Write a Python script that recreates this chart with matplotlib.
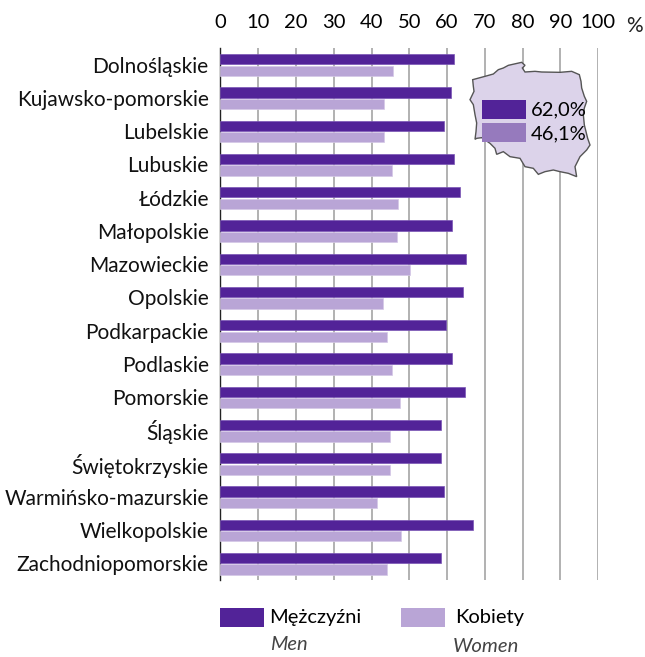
import matplotlib
matplotlib.use("Agg")
import matplotlib.pyplot as plt
from matplotlib.patches import Polygon, Rectangle
import numpy as np

regions = ["Dolnośląskie", "Kujawsko-pomorskie", "Lubelskie", "Lubuskie", "Łódzkie", "Małopolskie",
           "Mazowieckie", "Opolskie", "Podkarpackie", "Podlaskie", "Pomorskie", "Śląskie",
           "Świętokrzyskie", "Warmińsko-mazurskie", "Wielkopolskie", "Zachodniopomorskie"]
men = [61.9, 61.0, 59.1, 61.9, 63.4, 61.2, 65.0, 64.2, 59.8, 61.2, 64.8, 58.3, 58.3, 59.1, 66.9, 58.4]
women = [45.7, 43.2, 43.3, 45.4, 46.9, 46.8, 50.1, 43.1, 44.0, 45.4, 47.5, 44.8, 44.8, 41.5, 47.9, 44.1]
ticks = list(range(0, 101, 10))
map_outline = [(98,119),(135,109),(160,102),(175,89),(190,84),(205,76),(245,67),(255,76),(247,84),(255,96),
               (285,94),(305,96),(360,97),(395,94),(418,104),(423,124),(425,144),(433,169),(440,184),
               (433,204),(430,224),(433,255),(443,295),(450,315),(440,330),(420,350),(405,380),(410,410),
               (385,400),(360,395),(340,390),(315,395),(295,403),(280,385),(255,380),(240,355),(210,350),
               (190,335),(170,343),(165,325),(150,310),(125,293),(110,295),(105,298),(108,275),(110,249),
               (105,224),(100,194),(90,179),(102,154),(100,139)]

W, H = 645, 657
DARK, LIGHT, MID, MAPC = "#522398", "#b9a5d6", "#967abd", "#dcd3ea"
plt.rcParams["font.family"] = ["Lato", "DejaVu Sans"]
fig = plt.figure(figsize=(W/100, H/100), dpi=100)
L, R, T, B = 220.5, 598, 48, 580
ax = fig.add_axes([L/W, 1-B/H, (R-L)/W, (B-T)/H])
ax.set_xlim(0, 100)
ax.set_ylim(len(regions)-0.5, -0.5)
y = np.arange(len(regions))
ax.barh(y-0.163, men, height=0.31, color=DARK, edgecolor="#7a55b5", linewidth=0.5, zorder=3)
ax.barh(y+0.186, women, height=0.31, color=LIGHT, edgecolor="#d5c8e6", linewidth=0.5, zorder=3)
ax.set_xticks(ticks)
ax.grid(axis="x", color="#ababab", linewidth=1.3, zorder=1)
ax.set_axisbelow(True)
for s in ["top", "right", "bottom"]:
    ax.spines[s].set_visible(False)
ax.spines["left"].set_color("#222222")
ax.spines["left"].set_linewidth(1.0)
ax.xaxis.tick_top()
ax.tick_params(axis="x", length=0, pad=12, labelsize=14.5, colors="black")
ax.tick_params(axis="y", length=0, pad=8.5, labelsize=15, colors="#111111")
ax.set_yticks(y)
ax.set_yticklabels(regions)

def fx(px): return px/W
def fy(py): return 1-py/H
def ftext(px, py, s, **kw):
    fig.text(fx(px), fy(py), s, va="center", **kw)
def frect(x, y0, w, h, c):
    fig.add_artist(Rectangle((fx(x), fy(y0+h)), w/W, h/H, transform=fig.transFigure, color=c, lw=0, zorder=6))

ftext(626, 26, "%", fontsize=15, color="#222222")
pts = [(fx(440+a/3), fy(40+b/3)) for a, b in map_outline]
fig.add_artist(Polygon(pts, closed=True, transform=fig.transFigure, facecolor=MAPC, edgecolor="#555555", linewidth=1.0, zorder=5))
frect(482, 100, 44, 19, DARK)
frect(482, 123, 44, 19, MID)
ftext(531, 110, "62,0%", fontsize=14.5, color="black", zorder=7)
ftext(531, 134, "46,1%", fontsize=14.5, color="black", zorder=7)

frect(220, 608, 44, 19, DARK)
frect(401, 608, 44, 19, LIGHT)
ftext(269, 618, "Mężczyźni", fontsize=14.4, color="black")
ftext(455, 618, "Kobiety", fontsize=14.5, color="black")
ftext(270, 645, "Men", fontsize=14.5, style="italic", color="#444444")
ftext(453, 647, "Women", fontsize=14.6, style="italic", color="#444444")
fig.savefig("out.png", dpi=100)
